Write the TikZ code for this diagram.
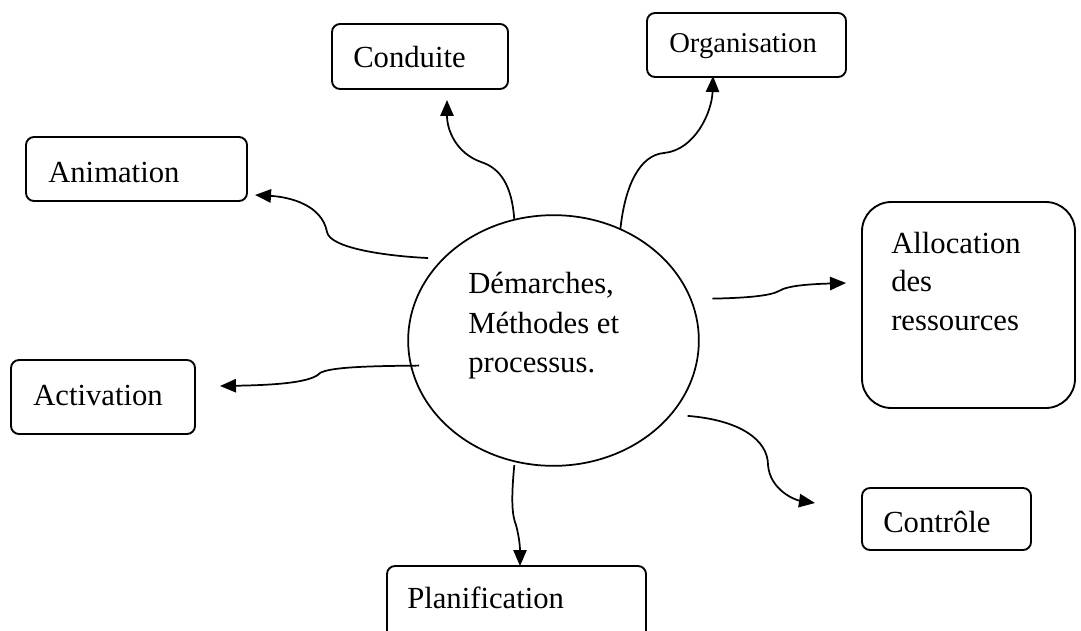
\documentclass[tikz,border=0pt]{standalone}
\usepackage{fontspec}
\setmainfont{Liberation Serif}
\usetikzlibrary{arrows.meta,shapes.geometric,fit}
\begin{document}
\begin{tikzpicture}[x=0.75pt,y=-0.75pt,
  box/.style={draw, line width=1.4pt, rounded corners=6pt, inner sep=0pt, outer sep=0pt},
  lbl/.style={anchor=base west, inner sep=0pt, font=\fontsize{23}{29.5}\selectfont},
  link/.style={line width=1.3pt, -{Triangle[length=12pt,width=10pt]}}]
\useasboundingbox (0,0) rectangle (1081,631);
\clip (0,0) rectangle (1081,631);

% central ellipse
\node[draw, ellipse, line width=1.3pt, minimum width=218pt, minimum height=188pt,
      inner sep=0pt, outer sep=0pt] (c) at (553.5,340.5) {};
\node[lbl] (c1) at (468,293) {Démarches,};
\node[lbl] (c2) at (468,333) {Méthodes et};
\node[lbl] (c3) at (468,372) {processus.};

% surrounding boxes
\node[box, fit={(332,24) (508,89)}] (conduite) {};
\node[lbl] at (353,68) {Conduite};

\node[box, fit={(647,13) (846,77)}] (organisation) {};
\node[lbl, font=\fontsize{21.5}{26}\selectfont] at (669,53) {Organisation};

\node[box, fit={(26,137) (247,201)}] (animation) {};
\node[lbl] at (48,182) {Animation};

\node[box, rounded corners=22pt, fit={(862,202) (1075,408)}] (allocation) {};
\node[lbl] (a1) at (891,253) {Allocation};
\node[lbl] (a2) at (891,291) {des};
\node[lbl] (a3) at (891,330) {ressources};

\node[box, fit={(11,360) (195,434)}] (activation) {};
\node[lbl] at (33,405) {Activation};

\node[box, fit={(387,566) (646,645)}] (planification) {};
\node[lbl] at (407,608) {Planification};

\node[box, fit={(862,488) (1031,550)}] (controle) {};
\node[lbl] at (883,532) {Contrôle};

% arrow tips, just short of each box
\coordinate (tipcond) at (447,100);
\coordinate (tiporg) at (713,76);
\coordinate (tipanim) at (255,195);
\coordinate (tipalloc) at (846,283);
\coordinate (tipact) at (220,386);
\coordinate (tipplan) at (520,566);
\coordinate (tipctrl) at (815,503);

% curved connectors
\draw[link] (c.108) .. controls (512,185) and (500,168) .. (481,162)
  .. controls (456,153) and (447,130) .. (tipcond);
\draw[link] (c.59) .. controls (625,185) and (640,155) .. (664,153)
  .. controls (695,150) and (712,112) .. (tiporg);
\draw[link] ([shift={(-16,0)}]c.143) .. controls (385,256) and (330,248) .. (327,232)
  .. controls (322,205) and (290,197) .. (tipanim);
\draw[link] ([shift={(22,0)}]c.17) .. controls (745,298) and (770,296) .. (779,291)
  .. controls (788,285) and (815,284) .. (tipalloc);
\draw[link] ([shift={(8,0)}]c.190) .. controls (370,366) and (330,367) .. (320,373)
  .. controls (312,382) and (280,385) .. (tipact);
\draw[link] ([shift={(0,4)}]c.-108) .. controls (511,500) and (512,515) .. (516,525)
  .. controls (520,540) and (520,550) .. (tipplan);
\draw[link] ([shift={(18,0)}]c.-33) .. controls (740,420) and (768,440) .. (768,465)
  .. controls (770,490) and (795,500) .. (tipctrl);
\end{tikzpicture}
\end{document}
